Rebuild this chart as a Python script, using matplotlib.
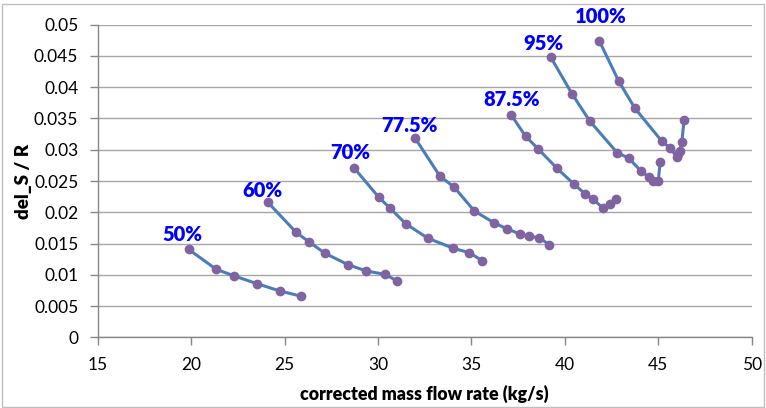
import matplotlib
matplotlib.use("Agg")
import matplotlib.pyplot as plt
from matplotlib.patches import Rectangle

# speed lines: corrected mass flow rate (kg/s) vs del_S / R
speed_labels = ["50%", "60%", "70%", "77.5%", "87.5%", "95%", "100%"]

flow_50 = [19.86, 21.34, 22.32, 23.53, 24.75, 25.90]
dels_50 = [0.01408, 0.01088, 0.00980, 0.00857, 0.00741, 0.00656]

flow_60 = [24.09, 25.62, 26.32, 27.16, 28.40, 29.38, 30.36, 31.01]
dels_60 = [0.02164, 0.01679, 0.01524, 0.01344, 0.01161, 0.01060, 0.01008, 0.00905]

flow_70 = [28.71, 30.03, 30.65, 31.49, 32.67, 34.03, 34.89, 35.58]
dels_70 = [0.02713, 0.02244, 0.02063, 0.01815, 0.01585, 0.01424, 0.01353, 0.01225]

flow_775 = [31.98, 33.32, 34.07, 35.16, 36.23, 36.89, 37.60, 38.08, 38.63, 39.17]
dels_775 = [0.03188, 0.02575, 0.02404, 0.02020, 0.01828, 0.01737, 0.01652, 0.01615, 0.01593, 0.01481]

flow_875 = [37.13, 37.90, 38.56, 39.58, 40.50, 41.07, 41.52, 42.04, 42.43, 42.73]
dels_875 = [0.03556, 0.03215, 0.03017, 0.02703, 0.02447, 0.02297, 0.02212, 0.02063, 0.02127, 0.02212]

flow_95 = [39.24, 40.38, 41.33, 42.80, 43.41, 44.07, 44.50, 44.73, 45.00, 45.10]
dels_95 = [0.04483, 0.03896, 0.03460, 0.02953, 0.02868, 0.02660, 0.02564, 0.02500, 0.02500, 0.02799]

flow_100 = [41.84, 42.88, 43.75, 45.18, 45.64, 45.98, 46.06, 46.16, 46.26, 46.38]
dels_100 = [0.04744, 0.04099, 0.03663, 0.03140, 0.03023, 0.02889, 0.02932, 0.02980, 0.03119, 0.03476]

x_ticks = [15, 20, 25, 30, 35, 40, 45, 50]
y_ticks = [0, 0.005, 0.01, 0.015, 0.02, 0.025, 0.03, 0.035, 0.04, 0.045, 0.05]
y_tick_labels = ["0", "0.005", "0.01", "0.015", "0.02", "0.025", "0.03", "0.035", "0.04", "0.045", "0.05"]

flows = [flow_50, flow_60, flow_70, flow_775, flow_875, flow_95, flow_100]
dels = [dels_50, dels_60, dels_70, dels_775, dels_875, dels_95, dels_100]

# label placement relative to first point of each line (pixels)
label_offsets = [(-6, 15), (-5, 12), (-4, 15), (-6, 12), (0, 15), (-7, 14), (2, 24)]

LINE_COLOR = "#4a7ebb"
MARKER_COLOR = "#8064a2"
GRID_COLOR = "#a6a6a6"
AXIS_COLOR = "#868686"

plt.rcParams['font.family'] = ['Lato', 'DejaVu Sans']

fig = plt.figure(figsize=(7.66, 4.08), dpi=100)
ax = fig.add_axes([97.7 / 766, 1 - 337.3 / 408, (751.7 - 97.7) / 766, (337.3 - 24.7) / 408])

for x, y, label, off in zip(flows, dels, speed_labels, label_offsets):
    ax.plot(x, y, color=LINE_COLOR, linewidth=2.2, marker="o", markersize=6,
            markerfacecolor=MARKER_COLOR, markeredgecolor=MARKER_COLOR, zorder=3)
    ax.annotate(label, (x[0], y[0]), xytext=off, textcoords="offset pixels",
                ha="center", va="center", color="#0000ff", fontsize=14.5, fontweight="heavy")

ax.set_xlim(15, 50)
ax.set_ylim(0, 0.05)
ax.set_xticks(x_ticks)
ax.set_yticks(y_ticks)
ax.set_yticklabels(y_tick_labels)
ax.grid(axis="y", color=GRID_COLOR, linewidth=1.0)
ax.set_axisbelow(True)

for side in ["top", "right"]:
    ax.spines[side].set_visible(False)
for side in ["left", "bottom"]:
    ax.spines[side].set_color(AXIS_COLOR)
    ax.spines[side].set_linewidth(1.0)

ax.tick_params(axis="both", direction="out", length=6, width=1, color=AXIS_COLOR,
               labelsize=12.5, labelcolor="#000000")
ax.tick_params(axis="y", pad=8)
ax.tick_params(axis="x", pad=8)

ax.set_xlabel("corrected mass flow rate (kg/s)", fontsize=12.8, fontweight="heavy")
ax.set_ylabel("del_S / R", fontsize=13.5, fontweight="heavy")
ax.xaxis.set_label_coords(0.5, -0.151)
ax.yaxis.set_label_coords(-0.100, 0.5)

fig.patches.append(Rectangle((0.003, 0.003), 0.994, 0.987, transform=fig.transFigure,
                             fill=False, edgecolor="#bfbfbf", linewidth=1))

fig.savefig("out.png", dpi=100)
